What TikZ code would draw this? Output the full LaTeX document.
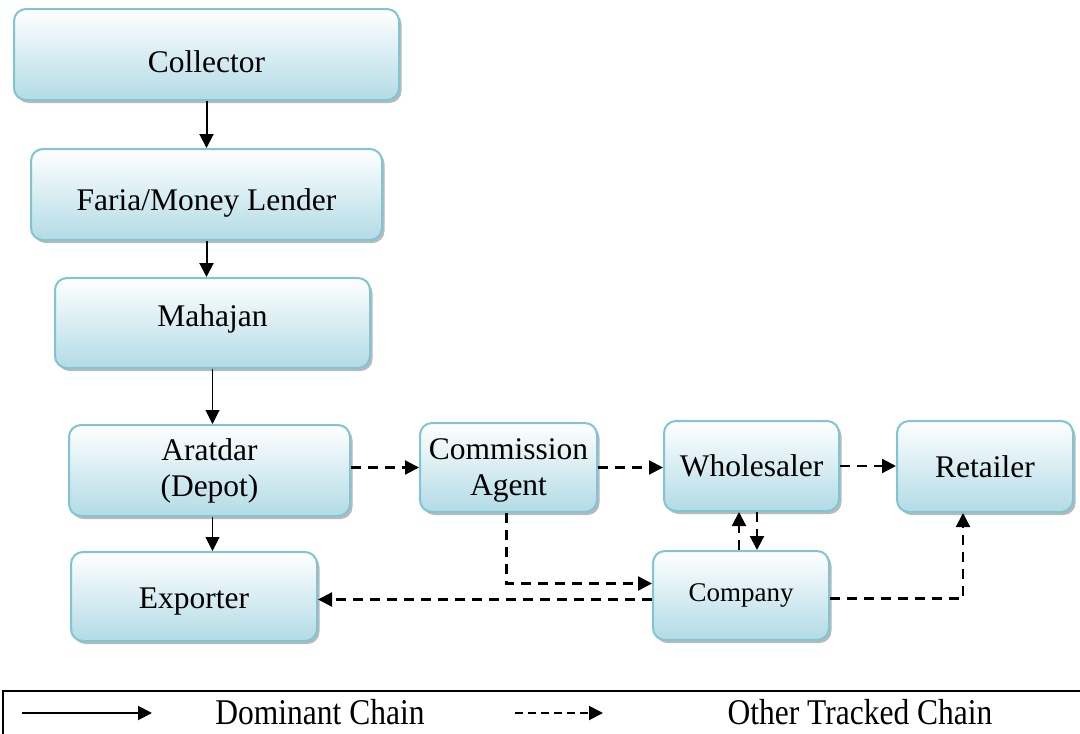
\documentclass[tikz,border=0pt]{standalone}
\usepackage{fontspec}
\setmainfont{Liberation Serif}
\usepackage{tikz}
\usetikzlibrary{arrows.meta,shadows}

\definecolor{boxedge}{RGB}{128,197,212}
\definecolor{boxlow}{RGB}{178,219,230}

\newcommand{\shifttext}[2]{\raisebox{#1}[\height][\depth]{#2}}

\begin{document}
\begin{tikzpicture}[x=1pt, y=-1pt,
  actor/.style={draw=boxedge, line width=2pt, rounded corners=12pt, align=center,
    top color=white, bottom color=boxlow, font=\fontsize{31.5}{36}\selectfont,
    drop shadow={shadow xshift=2.5pt, shadow yshift=-3pt, fill=gray!55, opacity=1}},
  main/.style={-{Triangle[length=14pt,width=14pt]}, line width=2pt},
  other/.style={-{Triangle[length=14pt,width=14pt]}, line width=2.2pt, dash pattern=on 10pt off 7pt},
  legtext/.style={font=\fontsize{31.5}{36}\selectfont}
]
\useasboundingbox (0,0) rectangle (1080,734);

\node[actor, minimum width=385pt, minimum height=91pt] (collector) at (206.5,54.5) {\shifttext{-7pt}{Collector}};
\node[actor, minimum width=351pt, minimum height=91pt] (faria) at (206.5,194.5) {\shifttext{-8pt}{Faria/Money Lender}};
\node[actor, minimum width=315pt, minimum height=90pt] (mahajan) at (212.5,323) {\shifttext{4pt}{Mahajan}};
\node[actor, minimum width=281pt, minimum height=91pt] (aratdar) at (209.5,470.5) {Aratdar\\(Depot)};
\node[actor, minimum width=246pt, minimum height=89pt] (exporter) at (194,596.5) {\shifttext{-5pt}{Exporter}};
\node[actor, minimum width=177pt, minimum height=89pt] (agent) at (508.5,467.5) {\shifttext{-3pt}{Commission}\\\shifttext{-3pt}{Agent}};
\node[actor, minimum width=175pt, minimum height=90pt] (wholesaler) at (751.5,466) {Wholesaler};
\node[actor, minimum width=176pt, minimum height=91pt] (retailer) at (985,466.5) {Retailer};
\node[actor, minimum width=176pt, minimum height=89pt, font=\fontsize{27}{32}\selectfont] (company) at (741,595.5) {Company};

% dominant chain
\draw[main] (collector) -- (faria);
\draw[main] (faria.south) -- (faria.south |- mahajan.north);
\draw[main, line width=1pt] (mahajan.south) -- (mahajan.south |- aratdar.north);
\draw[main, line width=1pt] ([xshift=3pt]aratdar.south) -- ([xshift=3pt]aratdar.south |- exporter.north);

% other tracked chains
\draw[other] (agent.west -| aratdar.east) -- (agent.west);
\draw[other] (agent.east) -- (agent.east -| wholesaler.west);
\draw[other] (wholesaler.east) -- (wholesaler.east -| retailer.west);
\draw[other] ([xshift=-2pt]company.north) -- ([xshift=-2pt]company.north |- wholesaler.south);
\draw[other] ([xshift=16pt]company.north |- wholesaler.south) -- ([xshift=16pt]company.north);
\draw[other] ([xshift=-2pt]agent.south) |- ([yshift=12pt]company.west);
\draw[other] ([yshift=-4pt]company.west) -- ([yshift=-4pt]company.west -| exporter.east);
\draw[other] ([yshift=-3pt]company.east) -| ([xshift=-22pt]retailer.south);

% legend
\draw[line width=1.5pt] (3,691) rectangle (1100,760);
\coordinate (solidA) at (22,713);
\coordinate (solidB) at (152,713);
\coordinate (dashA) at (515,713);
\coordinate (dashB) at (603,713);
\draw[main] (solidA) -- (solidB);
\draw[main, dash pattern=on 8pt off 5pt] (dashA) -- (dashB);
\node[legtext, yscale=1.15] (domtext) at (320,712) {Dominant Chain};
\node[legtext, yscale=1.15] (othtext) at (860,712) {Other Tracked Chain};
\end{tikzpicture}
\end{document}
